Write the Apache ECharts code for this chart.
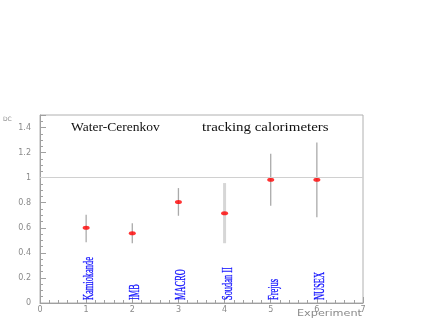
<!DOCTYPE html>
<html><head><meta charset="utf-8">
<script src="https://cdn.jsdelivr.net/npm/echarts@6/dist/echarts.min.js"></script>
<style>html,body{margin:0;padding:0;background:#fff}#c{width:436px;height:327px}</style>
</head><body><div id="c"></div>
<script>
const categories = ['Kamiokande', 'IMB', 'MACRO', 'Soudan II', 'Frejus', 'NUSEX'];
const xPos = [1, 2, 3, 4, 5, 6];
const values = [0.60, 0.557, 0.806, 0.717, 0.984, 0.984];
const errLow = [0.485, 0.477, 0.696, 0.477, 0.776, 0.685];
const errHigh = [0.704, 0.637, 0.917, 0.957, 1.19, 1.28];
const xTicks = ['0', '1', '2', '3', '4', '5', '6', '7'];
const yTicks = ['0', '0.2', '0.4', '0.6', '0.8', '1', '1.2', '1.4'];

const chart = echarts.init(document.getElementById('c'), null, {renderer: 'canvas'});
const tickFont = {color: '#8a8a8a', fontSize: 8, fontFamily: 'DejaVu Sans'};
const axisCol = '#a0a0a0';

chart.setOption({
  animation: false,
  backgroundColor: '#fff',
  grid: {left: 40, right: 73, top: 115, bottom: 24, show: true, borderColor: '#b0b0b0', borderWidth: 1},
  xAxis: {
    type: 'value', min: 0, max: 7, interval: 1,
    axisLine: {show: true, lineStyle: {color: axisCol}},
    axisTick: {show: true, inside: true, length: 6, lineStyle: {color: axisCol}},
    minorTick: {show: true, splitNumber: 5, length: 3, lineStyle: {color: axisCol}},
    splitLine: {show: false},
    axisLabel: Object.assign({margin: 3, formatter: v => xTicks[Math.round(v)]}, tickFont)
  },
  yAxis: {
    type: 'value', min: 0, max: 1.5, interval: 0.2,
    axisLine: {show: true, lineStyle: {color: axisCol}},
    axisTick: {show: true, inside: true, length: 6, lineStyle: {color: axisCol}},
    minorTick: {show: true, splitNumber: 4, length: 3, lineStyle: {color: axisCol}},
    splitLine: {show: false},
    axisLabel: Object.assign({margin: 9, showMaxLabel: false,
      formatter: v => { const i = Math.round(v / 0.2); return yTicks[i] !== undefined && Math.abs(v - i * 0.2) < 1e-6 ? yTicks[i] : ''; }}, tickFont)
  },
  graphic: [
    {type: 'text', x: 3, y: 119, style: {text: 'DC', font: '6px DejaVu Sans', fill: '#8a8a8a', verticalAlign: 'middle'}},
    {type: 'text', x: 297, y: 314, scaleX: 1.25, style: {text: 'Experiment', font: '9px DejaVu Sans', fill: '#8a8a8a', align: 'left', verticalAlign: 'middle'}},
    {type: 'text', x: 71, y: 128, scaleX: 1.04, style: {text: 'Water-Cerenkov', font: '13px "Liberation Serif"', fill: '#111', align: 'left', verticalAlign: 'middle'}},
    {type: 'text', x: 202, y: 128, scaleX: 1.15, style: {text: 'tracking calorimeters', font: '13px "Liberation Serif"', fill: '#111', align: 'left', verticalAlign: 'middle'}}
  ],
  series: [
    {
      type: 'custom', z: 2,
      data: xPos.map((x, i) => [x, errLow[i], errHigh[i]]),
      renderItem: (params, api) => {
        const a = api.coord([api.value(0), api.value(1)]);
        const b = api.coord([api.value(0), api.value(2)]);
        const wide = params.dataIndex === 3;
        return {type: 'line', shape: {x1: a[0], y1: a[1], x2: b[0], y2: b[1]},
          style: {stroke: wide ? '#d6d6d6' : '#aaaaaa', lineWidth: wide ? 3 : 1.3}};
      }
    },
    {
      type: 'scatter', z: 3,
      symbol: 'circle', symbolSize: [7, 4],
      itemStyle: {color: '#ff0000'},
      data: xPos.map((x, i) => [x, values[i]]),
      markLine: {
        silent: true, symbol: 'none', label: {show: false},
        lineStyle: {color: '#d0d0d0', width: 1, type: 'solid'},
        data: [{yAxis: 1}]
      }
    },
    {
      type: 'custom', z: 4,
      data: xPos.map((x, i) => [x, 0, i]),
      renderItem: (params, api) => {
        const p = api.coord([api.value(0), api.value(1)]);
        return {type: 'text', x: p[0] + 3, y: p[1] - 3, rotation: Math.PI / 2, scaleX: 0.56, scaleY: 1,
          style: {text: categories[params.dataIndex], font: '15px "Liberation Serif"', fill: '#1010ff',
            stroke: '#1010ff', lineWidth: 0.3, align: 'left', verticalAlign: 'middle'}};
      }
    }
  ]
});
</script></body></html>
